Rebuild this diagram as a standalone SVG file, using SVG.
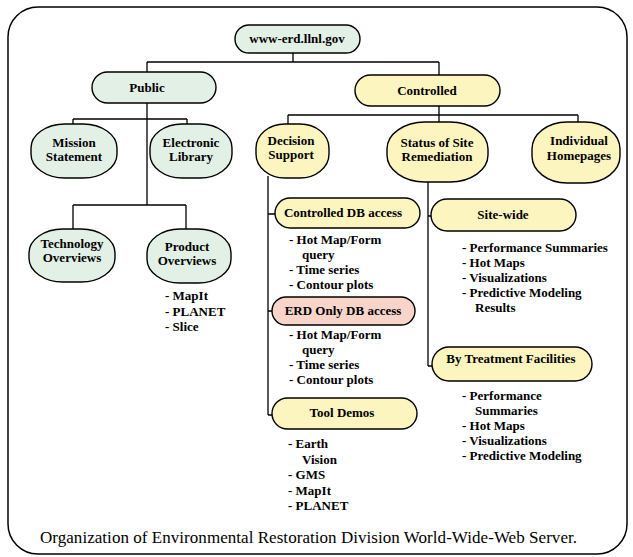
<svg xmlns="http://www.w3.org/2000/svg" width="633" height="557" viewBox="0 0 633 557">
<style>
.frame{fill:none;stroke:#000;stroke-width:1.5}
.g{fill:#e2f0e6;stroke:#000;stroke-width:1.4}
.y{fill:#fcf5c0;stroke:#000;stroke-width:1.4}
.p{fill:#f8d5c8;stroke:#000;stroke-width:1.4}
.c{fill:none;stroke:#000;stroke-width:1.3}
text{font-family:"Liberation Serif","Times New Roman",serif;fill:#000}
.l{font-size:13px;font-weight:bold;text-anchor:middle}
.t{font-size:13px;font-weight:bold}
.cap{font-size:17px}
</style>
<rect class="frame" x="8" y="7" width="619" height="547" rx="30" ry="30"/>
<g id="connectors">
<path class="c" d="M293,53 V62 M147,62 H439 M147,62 V72 M439,62 V75"/>
<path class="c" d="M147,103 V205 M73,119 H187 M73,119 V124 M187,119 V124 M73,205 H186 M73,205 V229 M186,205 V229"/>
<path class="c" d="M439,106 V115 M288,115 H578 M288,115 V124 M439,115 V122 M578,115 V122"/>
<path class="c" d="M268,176 V415 M268,214 H275 M268,311 H272 M268,415 H272"/>
<path class="c" d="M428,182 V366 M428,216 H431 M428,366 H432"/>
</g>
<g id="root"><rect class="g" x="235" y="25" width="125" height="28" rx="14"/><text class="l" x="297" y="43">www-erd.llnl.gov</text></g>
<g id="public"><rect class="g" x="92" y="72" width="124" height="31" rx="15.5"/><text class="l" x="147" y="92">Public</text></g>
<g id="controlled"><rect class="y" x="355" y="75" width="145" height="31" rx="15.5"/><text class="l" x="427" y="95">Controlled</text></g>
<g id="mission"><rect class="g" x="31" y="124" width="86" height="54" rx="34" ry="24"/><text class="l" x="74" y="146.5">Mission</text><text class="l" x="74" y="161">Statement</text></g>
<g id="library"><rect class="g" x="150" y="124" width="82" height="54" rx="32" ry="24"/><text class="l" x="191" y="146.5">Electronic</text><text class="l" x="191" y="161">Library</text></g>
<g id="technology"><rect class="g" x="29" y="229" width="86" height="53" rx="34" ry="24"/><text class="l" x="72" y="247.5">Technology</text><text class="l" x="72" y="262">Overviews</text></g>
<g id="product"><rect class="g" x="147" y="229" width="84" height="54" rx="33" ry="24"/><text class="l" x="187" y="250.5">Product</text><text class="l" x="187" y="265">Overviews</text>
<text class="t" x="165" y="300">- MapIt</text><text class="t" x="165" y="315.5">- PLANET</text><text class="t" x="165" y="331">- Slice</text></g>
<g id="decision"><rect class="y" x="256" y="124" width="73" height="54" rx="29" ry="24"/><text class="l" x="291" y="144.5">Decision</text><text class="l" x="291" y="159">Support</text></g>
<g id="status"><rect class="y" x="387" y="122" width="101" height="60" rx="38" ry="27"/><text class="l" x="437" y="146.5">Status of Site</text><text class="l" x="437" y="161">Remediation</text></g>
<g id="individual"><rect class="y" x="532" y="122" width="88" height="61" rx="35" ry="27"/><text class="l" x="579" y="145">Individual</text><text class="l" x="579" y="159.5">Homepages</text></g>
<g id="controlled-db"><rect class="y" x="275" y="198" width="145" height="30" rx="15"/><text class="l" x="343" y="217">Controlled DB access</text>
<text class="t" x="289" y="243.5">- Hot Map/Form</text><text class="t" x="302" y="258.5">query</text><text class="t" x="289" y="273.5">- Time series</text><text class="t" x="289" y="288.5">- Contour plots</text></g>
<g id="erd-db"><rect class="p" x="272" y="297" width="143" height="28" rx="14"/><text class="l" x="343" y="315">ERD Only DB access</text>
<text class="t" x="289" y="338.5">- Hot Map/Form</text><text class="t" x="302" y="353.5">query</text><text class="t" x="289" y="368.5">- Time series</text><text class="t" x="289" y="383.5">- Contour plots</text></g>
<g id="tool-demos"><rect class="y" x="272" y="398" width="145" height="31" rx="15.5"/><text class="l" x="342" y="417">Tool Demos</text>
<text class="t" x="288" y="448">- Earth</text><text class="t" x="302" y="463.5">Vision</text><text class="t" x="288" y="479">- GMS</text><text class="t" x="288" y="494.5">- MapIt</text><text class="t" x="288" y="510">- PLANET</text></g>
<g id="site-wide"><rect class="y" x="431" y="199" width="145" height="32" rx="16"/><text class="l" x="503" y="219">Site-wide</text>
<text class="t" x="462" y="252">- Performance Summaries</text><text class="t" x="462" y="267">- Hot Maps</text><text class="t" x="462" y="282">- Visualizations</text><text class="t" x="462" y="297">- Predictive Modeling</text><text class="t" x="475" y="312">Results</text></g>
<g id="treatment"><rect class="y" x="432" y="347" width="160" height="34" rx="17"/><text class="l" x="511" y="363">By Treatment Facilities</text>
<text class="t" x="462" y="399.5">- Performance</text><text class="t" x="475" y="414.5">Summaries</text><text class="t" x="462" y="429.5">- Hot Maps</text><text class="t" x="462" y="444.5">- Visualizations</text><text class="t" x="462" y="459.5">- Predictive Modeling</text></g>
<text class="cap" x="40" y="543" textLength="537" lengthAdjust="spacing">Organization of Environmental Restoration Division World-Wide-Web Server.</text>
</svg>
